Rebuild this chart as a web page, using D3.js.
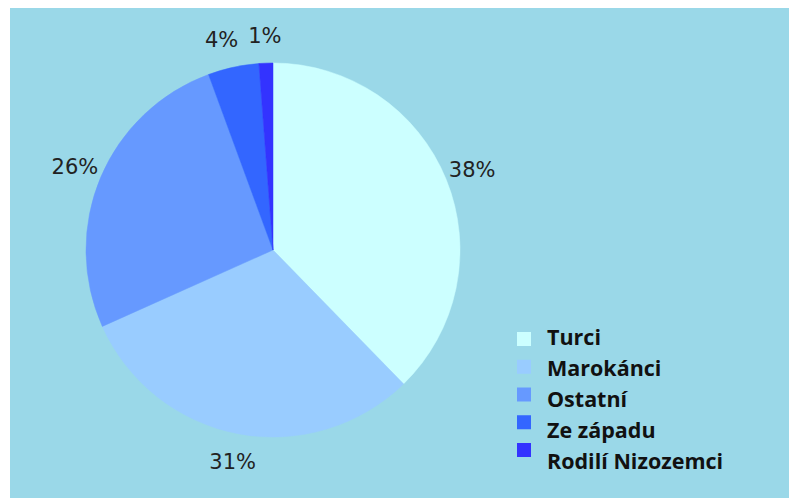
<!DOCTYPE html>
<html>
<head>
<meta charset="utf-8">
<script src="https://cdn.jsdelivr.net/npm/d3@7"></script>
<style>
  html, body { margin: 0; padding: 0; background: #ffffff; }
  svg { display: block; }
</style>
</head>
<body>
<svg id="chart" width="789" height="498"></svg>
<script>
const categories = ["Turci", "Marokánci", "Ostatní", "Ze západu", "Rodilí Nizozemci"];
const values = [37.7, 30.6, 26.1, 4.4, 1.2];
const colors = ["#CCFFFF", "#99CCFF", "#6699FF", "#3366FF", "#3333FF"];

const W = 789, H = 498;
const svg = d3.select("#chart");

svg.append("rect")
  .attr("x", 10).attr("y", 8)
  .attr("width", W - 10).attr("height", H - 8)
  .attr("fill", "#9AD8E8");

const cx = 273, cy = 250, R = 187, labelR = 215;
const data = categories.map((c, i) => ({ name: c, value: values[i], color: colors[i] }));

const pie = d3.pie().value(d => d.value).sort(null);
const arcs = pie(data);
const arc = d3.arc().innerRadius(0).outerRadius(R);
const labelArc = d3.arc().innerRadius(labelR).outerRadius(labelR);

const g = svg.append("g").attr("transform", `translate(${cx},${cy})`);
g.selectAll("path.slice").data(arcs).enter().append("path")
  .attr("class", "slice")
  .attr("d", arc)
  .attr("fill", d => d.data.color)
  .attr("stroke", d => d.data.color)
  .attr("stroke-width", 0.5);

const total = d3.sum(values);
const labels = g.selectAll("text.pct").data(arcs).enter().append("text")
  .attr("class", "pct")
  .attr("text-anchor", "middle")
  .attr("dy", "0.36em")
  .attr("font-family", "DejaVu Sans, sans-serif")
  .attr("font-size", 21)
  .attr("fill", "#222")
  .text(d => Math.round(d.data.value / total * 100) + "%");

// position labels at the slice centroids, then push apart labels that crowd each other
const pos = arcs.map(d => labelArc.centroid(d));
const widths = labels.nodes().map(n => n.getComputedTextLength());
const minGap = 10;
for (let i = pos.length - 1; i > 0; i--) {
  const a = i - 1, b = i;
  if (Math.abs(pos[a][1] - pos[b][1]) < 20) {
    const left = pos[a][0] < pos[b][0] ? a : b, right = left === a ? b : a;
    const need = widths[left] / 2 + widths[right] / 2 + minGap - (pos[right][0] - pos[left][0]);
    if (need > 0) pos[left][0] -= need;
  }
}
labels.attr("transform", (d, i) => `translate(${pos[i][0]},${pos[i][1]})`);

// legend
const legend = svg.append("g");
const sqY = d3.scaleLinear().domain([0, categories.length - 1]).range([332, 443]);
const txY = d3.scaleLinear().domain([0, categories.length - 1]).range([345, 469]);
data.forEach((d, i) => {
  legend.append("rect")
    .attr("x", 517).attr("y", sqY(i))
    .attr("width", 14).attr("height", 14)
    .attr("fill", d.color);
  legend.append("text")
    .attr("x", 547).attr("y", txY(i))
    .attr("font-family", "Open Sans, sans-serif")
    .attr("font-weight", "bold")
    .attr("font-size", 21.5)
    .attr("fill", "#111")
    .text(d.name);
});
</script>
</body>
</html>
